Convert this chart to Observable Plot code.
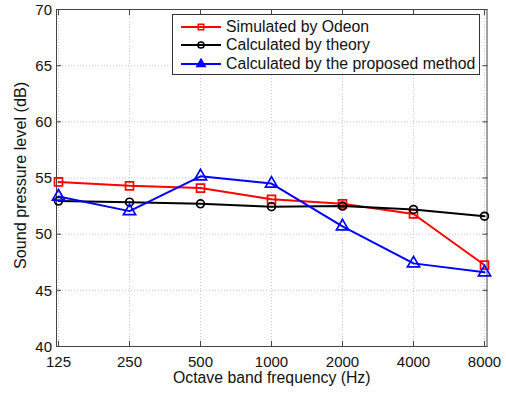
<!DOCTYPE html>
<html>
<head>
<meta charset="utf-8">
<script src="https://cdn.jsdelivr.net/npm/d3@7"></script>
<script src="https://cdn.jsdelivr.net/npm/@observablehq/plot@0.6"></script>
<style>
  body { margin: 0; background: #fff; font-family: "Liberation Sans", Arial, sans-serif; }
  #wrap { position: relative; width: 506px; height: 393px; }
  #legend { position: absolute; left: 172px; top: 14px; width: 306px; height: 59px;
            border: 1px solid #333; background: #fff; box-sizing: content-box; }
  .row { position: absolute; left: 0; height: 18px; display: flex; align-items: center; font-size: 15.8px; color: #111; }
  .row svg { margin-left: 8px; margin-right: 5px; }
</style>
</head>
<body>
<div id="wrap"><div id="legend"></div></div>
<script>
const freqs = [125, 250, 500, 1000, 2000, 4000, 8000];
const yTicks = [40, 45, 50, 55, 60, 65, 70];
const seriesNames = ["Simulated by Odeon", "Calculated by theory", "Calculated by the proposed method"];
const seriesColors = ["#ff0000", "#000000", "#0000ff"];
const seriesSymbols = ["square", "circle", "triangle"];
const odeon    = [54.65, 54.3, 54.1, 53.1, 52.7, 51.8, 47.25];
const theory   = [52.95, 52.85, 52.7, 52.45, 52.5, 52.2, 51.6];
const proposed = [53.35, 52.05, 55.15, 54.5, 50.7, 47.4, 46.6];
const xLabel = "Octave band frequency (Hz)";
const yLabel = "Sound pressure level (dB)";

const seriesValues = [odeon, theory, proposed];
const data = seriesValues.flatMap((vals, i) =>
  vals.map((v, j) => ({series: seriesNames[i], f: freqs[j], v})));

const markR = {square: 4.5, circle: 3.9, triangle: 4.5};
const FS = 15;

const marks = [
  Plot.gridX(freqs, {stroke: "#bbb", strokeOpacity: 1, strokeDasharray: "1,2", strokeWidth: 0.8}),
  Plot.gridY(yTicks, {stroke: "#bbb", strokeOpacity: 1, strokeDasharray: "1,2", strokeWidth: 0.8}),
  Plot.axisX(freqs, {anchor: "bottom", tickSize: -5, tickFormat: () => "", label: null, stroke: "#444"}),
  Plot.axisX(freqs, {anchor: "top", tickSize: -5, tickFormat: () => "", label: null, stroke: "#444"}),
  Plot.axisY(yTicks, {anchor: "left", tickSize: -5, tickFormat: () => "", label: null, stroke: "#444"}),
  Plot.axisY(yTicks, {anchor: "right", tickSize: -5, tickFormat: () => "", label: null, stroke: "#444"}),
  Plot.text(freqs, {x: d => d, frameAnchor: "bottom", dy: 20, text: d => String(d), fontSize: FS, fill: "#111", textAnchor: "middle"}),
  Plot.text(yTicks, {y: d => d, frameAnchor: "left", dx: -4.5, dy: 0.5, text: d => String(d), fontSize: FS, fill: "#111", textAnchor: "end"}),
  Plot.frame({stroke: "#444", strokeWidth: 1})
];
seriesNames.forEach((name, i) => {
  const d = data.filter(r => r.series === name);
  marks.push(Plot.line(d, {x: "f", y: "v", stroke: seriesColors[i], strokeWidth: 2}));
  marks.push(Plot.dot(d, {x: "f", y: "v", stroke: seriesColors[i], fill: "none", strokeWidth: 1.7,
                          symbol: seriesSymbols[i], r: markR[seriesSymbols[i]]}));
});
marks.push(Plot.text([yLabel], {frameAnchor: "left", rotate: -90, dx: -35.5, dy: -2.5, text: d => d, fontSize: 16.2, fill: "#111", textAnchor: "middle"}));
marks.push(Plot.text([xLabel], {frameAnchor: "bottom", dy: 36, text: d => d, fontSize: 15.8, fill: "#111", textAnchor: "middle"}));

const chart = Plot.plot({
  width: 506,
  height: 393,
  marginLeft: 56,
  marginRight: 19.5,
  marginTop: 9,
  marginBottom: 47,
  style: {fontFamily: "'Liberation Sans', Arial, sans-serif", fontSize: "15px", background: "#fff"},
  x: {type: "point", domain: freqs, padding: 0, axis: null},
  y: {domain: [40, 70], axis: null},
  marks
});
document.getElementById("wrap").prepend(chart);

// legend
const legend = d3.select("#legend");
const sym = d3.scaleOrdinal(seriesSymbols, [d3.symbolSquare, d3.symbolCircle, d3.symbolTriangle]);
seriesNames.forEach((name, i) => {
  const row = legend.append("div").attr("class", "row").style("top", (3 + i * 18.3) + "px");
  const s = row.append("svg").attr("width", 40).attr("height", 12);
  s.append("line").attr("x1", 0).attr("x2", 40).attr("y1", 6).attr("y2", 6)
    .attr("stroke", seriesColors[i]).attr("stroke-width", 2);
  s.append("path").attr("transform", "translate(20,6)")
    .attr("d", d3.symbol(sym(seriesSymbols[i]), 30)())
    .attr("fill", i === 2 ? seriesColors[i] : "none").attr("stroke", seriesColors[i]).attr("stroke-width", 1.5);
  row.append("span").text(name);
});
</script>
</body>
</html>
